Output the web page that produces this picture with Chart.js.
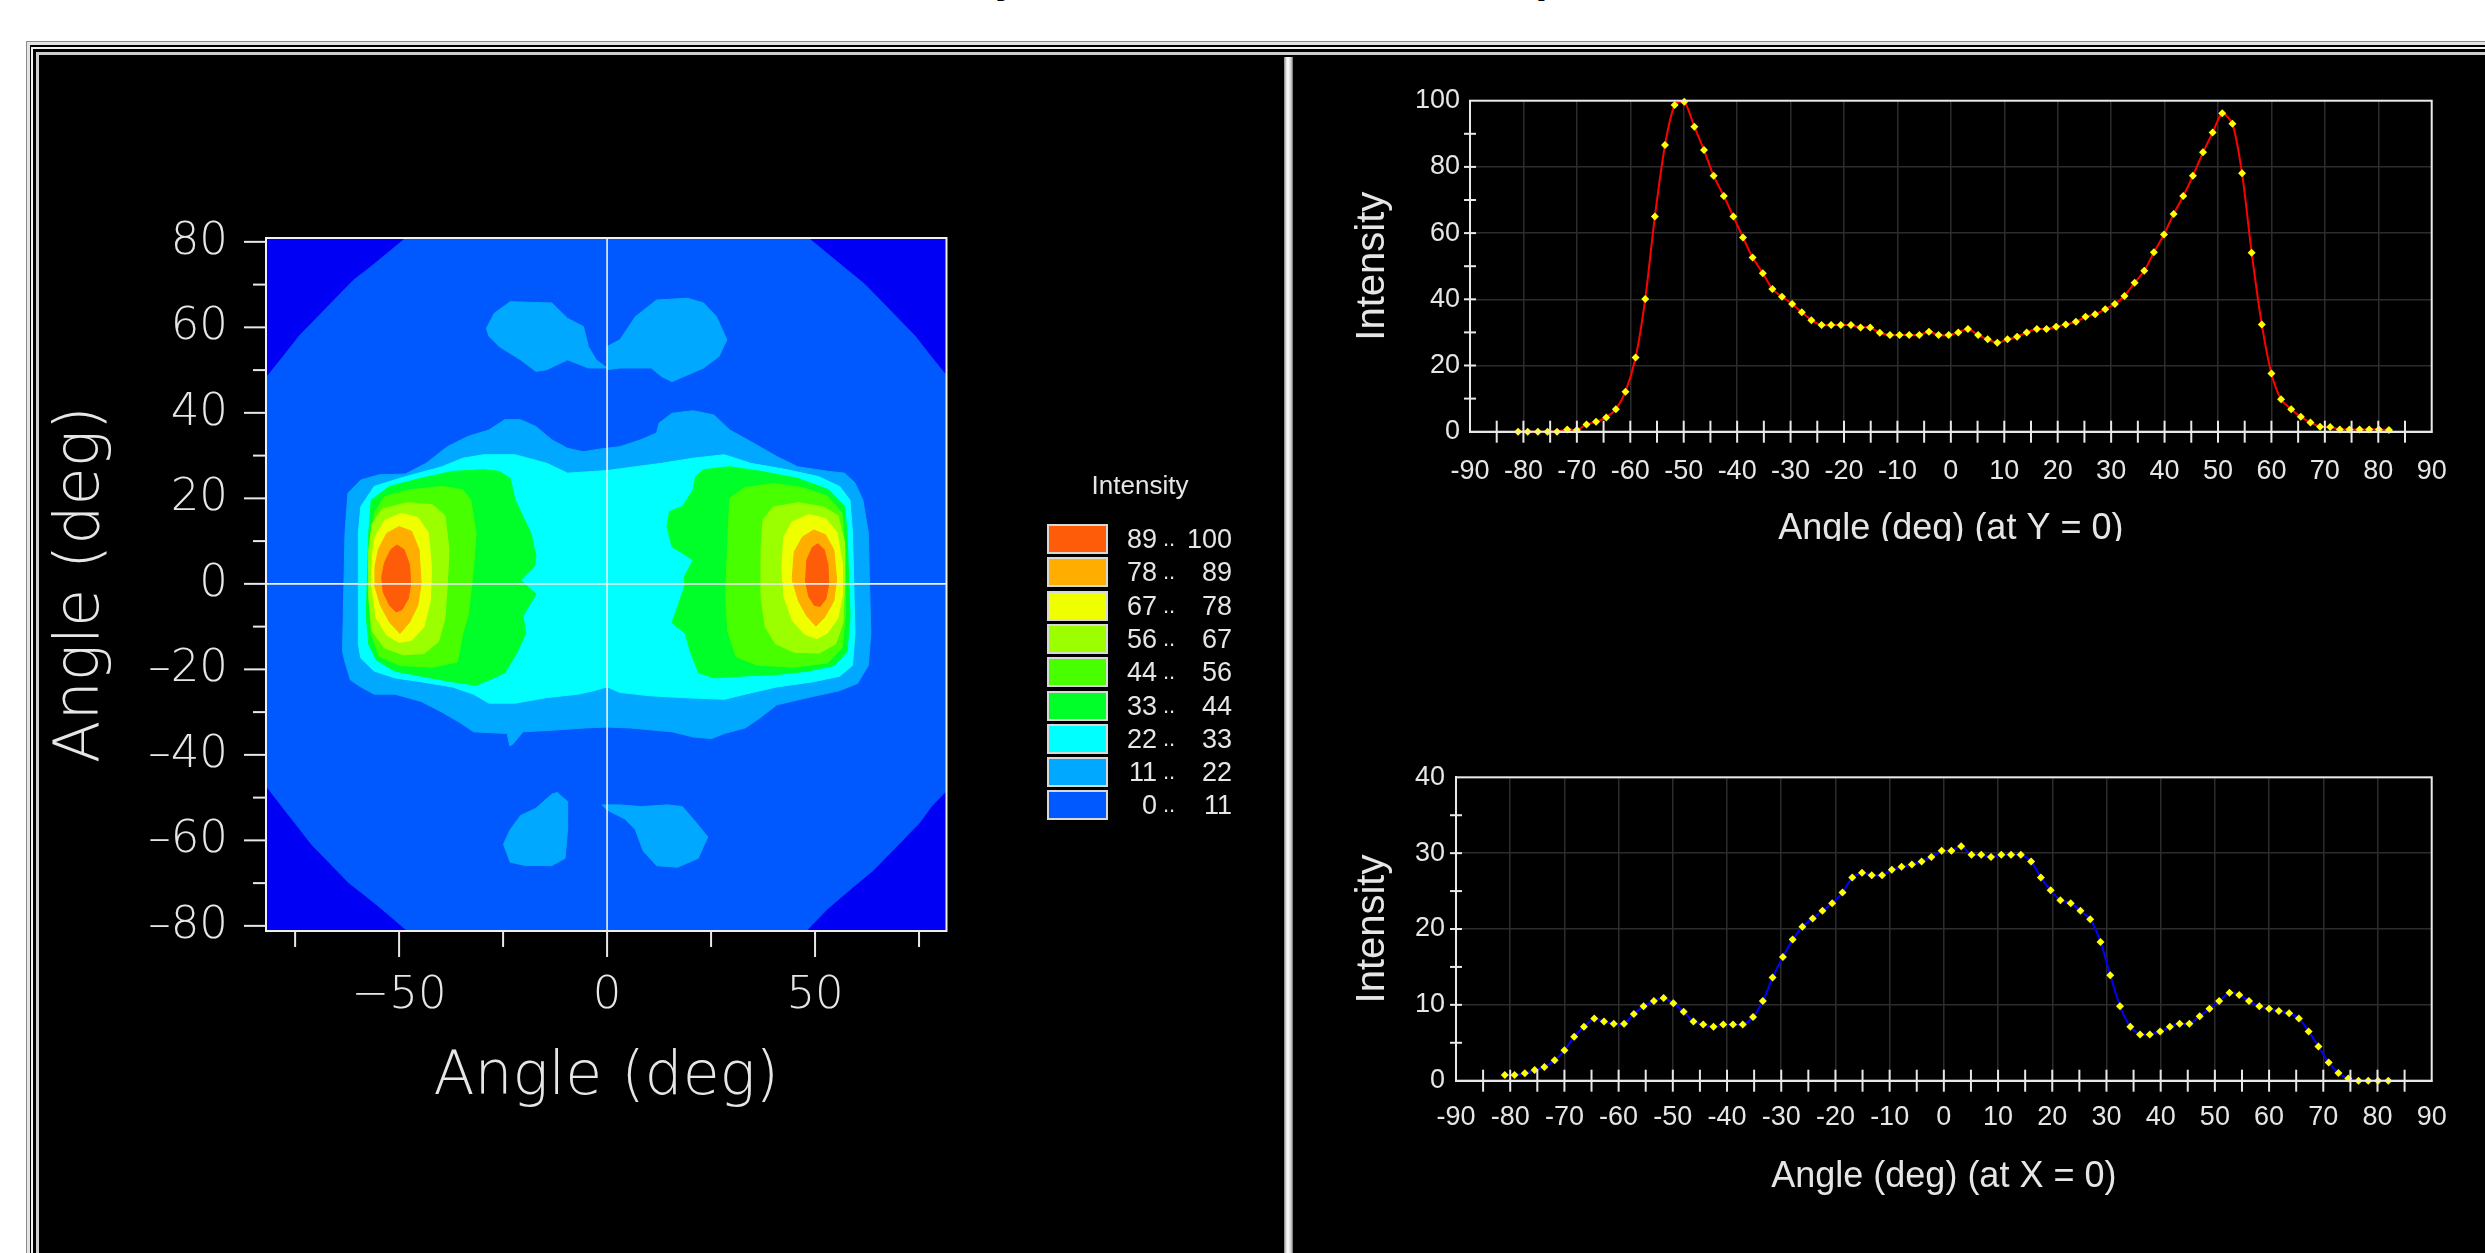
<!DOCTYPE html>
<html>
<head>
<meta charset="utf-8">
<title>Intensity Distribution</title>
<script src="https://cdn.jsdelivr.net/npm/chart.js"></script>
<style>
  html, body { margin: 0; padding: 0; }
  body { width: 2485px; height: 1253px; position: relative; overflow: hidden; background: #fff; }
  .abs { position: absolute; }
  #title { top: -45px; left: 800px; font: bold 44px/44px "Liberation Sans", Arial, sans-serif; color: #000; white-space: nowrap; }
  #f1 { left: 27px; top: 42px; width: 2600px; height: 1300px; background: #000; border-top: 3px solid #e4e4e4; border-left: 3px solid #e4e4e4; box-shadow: -1px -1px 0 #8a8a8a; }
  #f2 { left: 31px; top: 47px; width: 2600px; height: 1300px; border-top: 2px solid #f2f2f2; border-left: 2px solid #f2f2f2; }
  #f3 { left: 36px; top: 52px; width: 2600px; height: 1300px; border-top: 3px solid #cdcdcd; border-left: 3px solid #cdcdcd; }
  #divider { left: 1284px; top: 57px; width: 9px; height: 1200px; background: linear-gradient(90deg, #7a7a7a 0, #dcdcdc 2px, #fff 4px, #cfcfcf 7px, #6a6a6a 9px); }
  #contourBox { left: 0; top: 0; }
  #topWrap { left: 1296px; top: 57px; width: 1189px; height: 484px; overflow: hidden; }
  #bottomBox { left: 1296px; top: 740px; }
  #legend { left: 0; top: 0; font-family: "Liberation Sans", Arial, sans-serif; color: #e6e6e6; }
  .sw { position: absolute; width: 57px; height: 26px; border: 2px solid #d8d8d8; }
  .lt { position: absolute; font-size: 27px; line-height: 30px; white-space: nowrap; }
</style>
</head>
<body>
<div id="title" class="abs">Intensity Distribution Contour Map of Model LED1000_N30_R2</div>
<div id="f1" class="abs"></div>
<div id="f2" class="abs"></div>
<div id="f3" class="abs"></div>
<div id="divider" class="abs"></div>
<div id="contourBox" class="abs"><canvas id="contour" width="1280" height="1253"></canvas></div>
<div id="legend" class="abs"></div>
<div id="topWrap" class="abs"><canvas id="profileY" width="1189" height="560"></canvas></div>
<div id="bottomBox" class="abs"><canvas id="profileX" width="1189" height="513"></canvas></div>

<script>
// ---- contour levels (legend) ----
const levelLow = [0, 11, 22, 33, 44, 56, 67, 78, 89];
const levelHigh = [11, 22, 33, 44, 56, 67, 78, 89, 100];
const levelColors = ['#0058ff', '#00a8ff', '#00ffff', '#00ff28', '#48ff00', '#9cff00', '#f0ff00', '#ffae00', '#ff5c0a'];
const noDataColor = '#0000f5';

// ---- contour outlines, [x deg, y deg] ----
const band0 = [[-47,82],[47,82],[52,78],[57,74],[62,70],[66,66],[70,62],[74,58],[78,53],[83,47],[83,-47],[78,-52],[75,-56],[70,-61],[64,-67],[59,-71],[53,-76],[47,-82],[-47,-82],[-53,-77],[-58,-73],[-62,-70],[-67,-65],[-71,-61],[-75,-56],[-79,-51],[-83,-46],[-83,47],[-78,53],[-74,58],[-70,62],[-66,66],[-61,71],[-57,74],[-52,78]];

const band1Main = [[-63.0,11.9],[-62.3,21.2],[-59.2,24.3],[-54.8,25.5],[-48.5,25.7],[-43.5,28.2],[-38.4,32.1],[-33.4,34.5],[-28.4,36.0],[-24.6,38.4],[-20.8,38.4],[-17.1,36.8],[-13.3,33.7],[-9.5,31.7],[-5.7,30.9],[-2.0,31.5],[3.1,32.1],[8.1,33.7],[11.9,35.3],[12.5,37.6],[15.6,39.9],[20.7,40.5],[25.7,39.5],[29.5,36.0],[34.5,33.3],[40.8,29.8],[45.8,27.4],[53.3,26.3],[57.1,25.9],[59.6,23.6],[61.5,19.6],[62.8,11.9],[63.4,-11.6],[62.8,-19.1],[60.2,-23.3],[55.8,-25.0],[48.3,-26.6],[40.8,-28.3],[36.4,-31.6],[33.2,-33.7],[28.2,-35.0],[25.1,-36.2],[20.7,-35.8],[15.6,-34.6],[5.5,-33.7],[0,-33.5],[-5.2,-33.7],[-12.7,-34.2],[-20.2,-34.6],[-22.7,-37.5],[-23.4,-37.9],[-24.0,-35.0],[-32.1,-34.6],[-35.3,-32.5],[-39.7,-30.0],[-44.7,-27.5],[-51.0,-25.8],[-56.0,-25.8],[-59.2,-24.1],[-61.7,-22.5],[-63.0,-18.3],[-63.6,-15.8]];
const band1TopLeft = [[-29.0,59.8],[-27.1,63.3],[-23.3,66.0],[-13.3,65.7],[-9.5,62.1],[-5.7,60.2],[-4.5,55.5],[-2.6,52.4],[0,50.5],[-4.5,50.5],[-9.5,52.4],[-14.5,50.1],[-17.1,49.7],[-20.8,52.4],[-25.9,55.5],[-28.4,57.9]];
const band1TopRight = [[0,55.5],[3.1,57.1],[6.8,62.5],[11.9,66.4],[19.4,66.8],[23.2,65.7],[26.3,62.5],[28.8,57.1],[26.9,53.2],[23.2,50.5],[15.6,47.3],[13.1,48.5],[10.6,50.5],[3.1,50.5],[0,50.1]];
const band1BottomLeft = [[-12.0,-48.8],[-9.5,-50.9],[-9.5,-57.5],[-10.1,-64.2],[-13.3,-65.9],[-19.6,-65.9],[-23.3,-65.1],[-24.9,-60.9],[-23.3,-57.5],[-20.8,-54.2],[-17.1,-52.5],[-13.3,-49.2]];
const band1BottomRight = [[-1.2,-51.7],[0,-52.9],[4.3,-55.0],[6.8,-57.5],[8.7,-62.5],[11.9,-65.9],[16.9,-66.3],[21.9,-64.2],[24.2,-59.2],[20.7,-55.0],[18.1,-52.1],[14.4,-51.7],[8.1,-52.1],[3.1,-51.7]];

const band2Main = [[-59.8,11.9],[-59.2,18.1],[-56.0,22.8],[-49.8,24.7],[-39.7,27.4],[-34.7,29.4],[-29.6,30.2],[-22.1,30.2],[-14.5,28.2],[-9.5,25.9],[-3.2,26.3],[0,26.5],[6.8,27.4],[13.1,28.2],[20.7,29.4],[28.2,30.2],[34.5,28.2],[43.3,26.7],[50.8,25.1],[55.9,22.8],[58.4,19.6],[59.0,11.9],[59.6,-11.6],[59.0,-19.1],[55.9,-21.6],[49.6,-22.9],[40.8,-24.1],[33.2,-25.8],[28.2,-27.0],[18.1,-26.6],[10.6,-26.2],[3.1,-25.4],[0,-24.1],[-3.2,-25.0],[-7.0,-25.8],[-14.5,-26.6],[-22.1,-27.9],[-28.4,-27.9],[-32.1,-25.8],[-37.2,-24.1],[-44.7,-22.9],[-51.0,-22.0],[-56.0,-20.4],[-59.2,-17.4],[-59.8,-14.1]];

const band3Left = [[-56.7,19.6],[-52.3,22.8],[-44.7,24.7],[-37.2,26.3],[-29.6,26.7],[-25.9,26.3],[-23.3,24.7],[-22.1,19.6],[-20.2,15.7],[-18.3,11.9],[-17.1,6.4],[-17.6,4.0],[-20.8,0.9],[-17.1,-2.4],[-20.2,-7.4],[-19.6,-11.6],[-21.5,-15.8],[-24.6,-20.8],[-28.4,-22.5],[-31.5,-23.7],[-37.2,-22.9],[-44.7,-21.6],[-51.0,-20.4],[-55.4,-17.9],[-57.3,-14.1],[-57.9,-7.4],[-57.3,11.9]];
const band3Right = [[21.3,25.1],[23.2,26.7],[29.5,27.4],[37.0,26.3],[45.8,24.7],[53.3,22.0],[57.1,18.1],[57.7,11.9],[58.4,-7.4],[57.7,-15.8],[54.6,-19.1],[48.3,-20.4],[40.8,-21.2],[32.0,-21.6],[25.7,-22.0],[22.0,-20.8],[20.0,-15.8],[18.8,-11.6],[15.6,-9.1],[16.8,-5.8],[18.6,-0.7],[18.6,1.7],[20.7,5.6],[15.6,8.7],[14.4,13.4],[15.0,16.9],[18.1,18.1],[20.7,22.0]];

const band4Left = [[-56.0,16.5],[-53.5,20.4],[-47.2,22.0],[-39.7,22.8],[-34.7,22.0],[-32.8,19.6],[-31.5,11.9],[-32.1,4.0],[-33.4,-7.4],[-34.7,-11.6],[-36.0,-18.3],[-42.2,-19.5],[-49.8,-19.1],[-54.8,-17.0],[-56.7,-11.6],[-57.3,-3.2]];
const band4Right = [[29.5,20.0],[33.0,22.5],[40.0,23.5],[47.0,22.5],[53.0,20.5],[56.5,16.5],[57.2,8.0],[57.2,-8.0],[56.5,-15.0],[53.0,-18.5],[45.0,-19.5],[36.0,-19.0],[31.0,-17.0],[29.0,-11.0],[28.5,-3.0],[29.0,10.0]];

const band5Left = [[-56.5,14],[-54,17.5],[-48,19],[-42,18.5],[-39,16],[-38,8],[-38.4,0],[-39,-8],[-40.5,-13.5],[-44,-16.3],[-49,-16.6],[-53.5,-15],[-56.5,-11],[-57.3,-3],[-57.3,8]];
const band5Right = [[37.5,15],[40,18],[46,19],[52,18],[55.5,16],[57,10],[57.1,0],[56.7,-9],[55,-14],[51,-16.2],[45,-16],[40.5,-14],[38,-10],[37,-3],[37,8]];

const band6Left = [[-55.8,11],[-53.5,14.8],[-49.5,16.5],[-45.5,15.5],[-43,12],[-42.2,4],[-42.5,-4],[-44,-10],[-47,-13.2],[-50,-13.7],[-53,-12],[-55.5,-8],[-56.7,0],[-56.5,6]];
const band6Right = [[42.5,11],[44.5,14.5],[48.5,16.2],[52.5,15.3],[55.3,12],[56.5,5],[56.5,-3],[55.5,-8],[53,-11.5],[50.5,-12.8],[47.5,-11.8],[44.5,-8.5],[42.5,-3],[42,4]];

const band7Left = [[-55,8],[-53,11.8],[-50,13.4],[-47,12.3],[-45.2,8],[-44.7,0],[-45.5,-5],[-47.5,-9],[-49.8,-11.6],[-52.3,-9],[-54.5,-5],[-56,0],[-55.8,4]];
const band7Right = [[45,7.5],[47,11],[49.7,12.6],[52.5,11.5],[54.5,8],[55.2,1],[54.5,-4],[52.3,-7.8],[50.2,-9.9],[48,-7.5],[46,-4],[44.5,1]];

const band8Left = [[-53.5,5],[-52,8],[-50.5,9.1],[-48.8,8],[-47.5,4.5],[-47.2,0],[-47.8,-3.5],[-49.3,-6],[-50.7,-6.6],[-52.3,-5],[-53.8,-2],[-54.2,1.5]];
const band8Right = [[48,5.5],[49.3,8.5],[50.7,9.4],[52.2,8],[53.1,4.5],[53.3,0],[52.6,-3.5],[51.2,-5.3],[49.8,-5],[48.5,-3],[47.7,0.5]];

const bands = [
  [band0],
  [band1Main, band1TopLeft, band1TopRight, band1BottomLeft, band1BottomRight],
  [band2Main],
  [band3Left, band3Right],
  [band4Left, band4Right],
  [band5Left, band5Right],
  [band6Left, band6Right],
  [band7Left, band7Right],
  [band8Left, band8Right]
];

const mapXLabels = [-50, 0, 50];
const mapXMinor = [-75, -25, 25, 75];
const mapYLabels = [-80, -60, -40, -20, 0, 20, 40, 60, 80];
const mapYMinor = [-70, -50, -30, -10, 10, 30, 50, 70];

// ---- profiles through the centre ----
const profileAngle = [-81.0,-79.2,-77.3,-75.5,-73.7,-71.8,-70.0,-68.2,-66.4,-64.5,-62.7,-60.9,-59.0,-57.2,-55.4,-53.5,-51.7,-49.9,-48.0,-46.2,-44.4,-42.5,-40.7,-38.9,-37.1,-35.2,-33.4,-31.6,-29.7,-27.9,-26.1,-24.2,-22.4,-20.6,-18.7,-16.9,-15.1,-13.3,-11.4,-9.6,-7.8,-5.9,-4.1,-2.3,-0.4,1.4,3.2,5.1,6.9,8.7,10.6,12.4,14.2,16.1,17.9,19.7,21.5,23.4,25.2,27.0,28.9,30.7,32.5,34.4,36.2,38.0,39.9,41.7,43.5,45.3,47.2,49.0,50.8,52.7,54.5,56.3,58.2,60.0,61.8,63.7,65.5,67.3,69.1,71.0,72.8,74.6,76.5,78.3,80.1,82.0];
const intensityAtY0 = [0,0,0,0,0,0.7,0.5,2.2,3.0,4.3,6.8,12.1,22.4,40.1,65.0,86.6,98.7,99.7,92.1,85.1,77.3,71.2,65.0,58.7,52.6,47.9,43.1,40.8,38.6,36.1,33.7,32.2,32.2,32.2,32.2,31.5,31.5,29.9,29.2,29.2,29.2,29.2,30.2,29.2,29.2,30.0,31.0,29.2,27.9,26.9,27.9,28.7,30.0,31.0,31.0,31.7,32.4,33.2,34.7,35.5,37.0,38.6,41.0,45.0,48.6,54.2,59.6,65.8,71.2,77.3,84.4,90.4,96.2,93.0,78.1,54.1,32.4,17.6,9.8,6.8,4.5,2.8,1.5,1.4,0.7,0.7,0.7,0.7,0.7,0.5];
const intensityAtX0 = [0.75,0.75,0.97,1.4,1.8,2.7,4.0,5.8,7.1,8.2,7.8,7.5,7.5,8.8,9.8,10.5,10.9,10.2,9.1,7.8,7.4,7.1,7.4,7.4,7.4,8.4,10.5,13.6,16.3,18.6,20.3,21.4,22.4,23.4,24.8,26.8,27.4,27.1,27.1,27.8,28.2,28.5,28.9,29.5,30.3,30.3,30.9,29.8,29.8,29.5,29.8,29.8,29.8,28.9,26.8,25.1,23.8,23.4,22.4,21.3,18.3,13.9,9.8,7.1,6.1,6.1,6.5,7.1,7.5,7.5,8.5,9.5,10.5,11.6,11.3,10.5,9.8,9.5,9.2,8.9,8.2,6.5,4.5,2.4,1.0,0.3,0,0,0,0];
const profileXLabels = [-90,-80,-70,-60,-50,-40,-30,-20,-10,0,10,20,30,40,50,60,70,80,90];
const profileXMarks = [-85,-80,-75,-70,-65,-60,-55,-50,-45,-40,-35,-30,-25,-20,-15,-10,-5,0,5,10,15,20,25,30,35,40,45,50,55,60,65,70,75,80,85];
const topYLabels = [0, 20, 40, 60, 80, 100];
const topYMarks = [10, 20, 30, 40, 50, 60, 70, 80, 90];
const bottomYLabels = [0, 10, 20, 30, 40];
const bottomYMarks = [5, 10, 15, 20, 25, 30, 35];

const lightText = '#e6e6e6';
const axisColor = '#e8e8e8';
const gridColor = '#2c2c2c';
const thinFont = size => ({ family: '"DejaVu Sans", sans-serif', size: size, weight: '200' });
const plainFont = size => ({ family: '"Liberation Sans", Arial, sans-serif', size: size });

// title: only the descenders show above the frame
(function placeTitle() {
  const t = document.getElementById('title');
  const c = document.createElement('canvas').getContext('2d');
  c.font = 'bold 44px "Liberation Sans", Arial, sans-serif';
  t.style.left = (995 - c.measureText('Intensit').width) + 'px';
})();

// frame / background / crosshair around a plot area
const plotFrame = {
  id: 'plotFrame',
  beforeDatasetsDraw(chart, args, opts) {
    if (!opts.bg) return;
    const a = chart.chartArea;
    chart.ctx.save();
    chart.ctx.fillStyle = opts.bg;
    chart.ctx.fillRect(a.left, a.top, a.width, a.height);
    chart.ctx.restore();
  },
  afterDatasetsDraw(chart, args, opts) {
    const {ctx, chartArea: a, scales} = chart;
    ctx.save();
    ctx.strokeStyle = opts.border || axisColor;
    if (opts.cross) {
      ctx.lineWidth = 1.6;
      const x0 = scales.x.getPixelForValue(0), y0 = scales.y.getPixelForValue(0);
      ctx.beginPath();
      ctx.moveTo(x0, a.top); ctx.lineTo(x0, a.bottom);
      ctx.moveTo(a.left, y0); ctx.lineTo(a.right, y0);
      ctx.stroke();
    }
    ctx.lineWidth = 2;
    ctx.strokeRect(a.left, a.top, a.width, a.height);
    ctx.restore();
  }
};

// tick marks drawn through the scales (outward or crossing the axis line)
function tickMarks(specs) {
  return {
    id: 'tickMarks',
    afterDraw(chart) {
      const {ctx, chartArea: a} = chart;
      ctx.save();
      ctx.strokeStyle = axisColor;
      ctx.lineWidth = 2;
      specs.forEach(s => {
        const scale = chart.scales[s.axis];
        const inner = s.cross ? s.len / 2 : 0;
        const outer = s.cross ? s.len / 2 : s.len;
        s.values.forEach(v => {
          const p = scale.getPixelForValue(v);
          ctx.beginPath();
          if (s.axis === 'x') {
            ctx.moveTo(p, a.bottom - inner); ctx.lineTo(p, a.bottom + outer);
          } else {
            ctx.moveTo(a.left + inner, p); ctx.lineTo(a.left - outer, p);
          }
          ctx.stroke();
        });
      });
      ctx.restore();
    }
  };
}

// ---- contour map ----
const mapXLabel = v => (v < 0 ? '\u2212' + Math.abs(v) : String(v));
const mapYLabel = v => (v < 0 ? '\u2013' + Math.abs(v) : String(v));
const contourDatasets = [];
bands.forEach((polys, lvl) => {
  polys.forEach(poly => {
    const pts = poly.map(p => ({ x: p[0], y: p[1] }));
    pts.push(pts[0]);
    contourDatasets.push({
      data: pts,
      fill: 'shape',
      backgroundColor: levelColors[lvl],
      borderColor: levelColors[lvl],
      borderWidth: 1,
      borderJoinStyle: 'round',
      pointRadius: 0,
      tension: 0,
      order: -lvl
    });
  });
});

new Chart(document.getElementById('contour'), {
  type: 'line',
  data: { datasets: contourDatasets },
  options: {
    responsive: false,
    animation: false,
    events: [],
    layout: { padding: { left: 0, top: 238, right: 333.5, bottom: 122 } },
    plugins: {
      legend: { display: false },
      tooltip: { enabled: false },
      plotFrame: { bg: noDataColor, cross: true, border: '#f0f0f0' }
    },
    scales: {
      x: {
        type: 'linear', min: -82, max: 81.6,
        afterBuildTicks: ax => { ax.ticks = mapXLabels.map(v => ({ value: v })); },
        afterFit: ax => { ax.height = 200; },
        grid: { display: false, drawTicks: false },
        border: { display: false },
        ticks: { color: lightText, font: thinFont(45), padding: 38, maxRotation: 0, autoSkip: false, callback: v => mapXLabel(v) },
        title: { display: true, text: 'Angle (deg)', color: lightText, font: thinFont(60), padding: { top: 0, bottom: 17 } }
      },
      y: {
        type: 'linear', min: -81.2, max: 80.9,
        afterBuildTicks: ax => { ax.ticks = mapYLabels.map(v => ({ value: v })); },
        afterFit: ax => { ax.width = 266; },
        grid: { display: false, drawTicks: false },
        border: { display: false },
        ticks: { color: lightText, font: thinFont(45), padding: 38, autoSkip: false, callback: v => mapYLabel(v) },
        title: { display: true, text: 'Angle (deg)', color: lightText, font: thinFont(62), padding: { top: 45, bottom: 0 } }
      }
    }
  },
  plugins: [plotFrame, tickMarks([
    { axis: 'x', values: mapXLabels, len: 26 },
    { axis: 'x', values: mapXMinor, len: 16 },
    { axis: 'y', values: mapYLabels, len: 22 },
    { axis: 'y', values: mapYMinor, len: 13 }
  ])]
});

// ---- legend ----
(function buildLegend() {
  const box = document.getElementById('legend');
  const head = document.createElement('div');
  head.className = 'lt';
  head.style.cssText = 'left:1040px;width:200px;text-align:center;top:470px;font-size:26px;';
  head.textContent = 'Intensity';
  box.appendChild(head);
  for (let r = 0; r < levelColors.length; r++) {
    const lvl = levelColors.length - 1 - r;
    const top = 524 + r * 33.3;
    const sw = document.createElement('div');
    sw.className = 'sw';
    sw.style.left = '1047px';
    sw.style.top = top + 'px';
    sw.style.background = levelColors[lvl];
    box.appendChild(sw);
    const lo = document.createElement('div');
    lo.className = 'lt';
    lo.style.cssText = 'left:1097px;width:60px;text-align:right;top:' + top + 'px;';
    lo.textContent = levelLow[lvl];
    box.appendChild(lo);
    const dots = document.createElement('div');
    dots.className = 'lt';
    dots.style.cssText = 'left:1163px;top:' + top + 'px;font-size:22px;';
    dots.textContent = '..';
    box.appendChild(dots);
    const hi = document.createElement('div');
    hi.className = 'lt';
    hi.style.cssText = 'left:1172px;width:60px;text-align:right;top:' + top + 'px;';
    hi.textContent = levelHigh[lvl];
    box.appendChild(hi);
  }
})();

// ---- profile charts ----
function profileChart(id, values, lineColor, yMax, yLabels, yMarks, box) {
  return new Chart(document.getElementById(id), {
    type: 'line',
    data: {
      datasets: [{
        data: profileAngle.map((a, i) => ({ x: a, y: values[i] })),
        borderColor: lineColor,
        borderWidth: 2,
        tension: 0.25,
        pointStyle: 'rectRot',
        pointRadius: 4,
        pointBackgroundColor: '#ffff00',
        pointBorderColor: '#ffff00',
        pointBorderWidth: 0,
        clip: 6
      }]
    },
    options: {
      responsive: false,
      animation: false,
      events: [],
      layout: { padding: { left: 0, top: box.top, right: 53.3, bottom: 0 } },
      plugins: { legend: { display: false }, tooltip: { enabled: false }, plotFrame: { border: axisColor } },
      scales: {
        x: {
          type: 'linear', min: -90, max: 90,
          afterBuildTicks: ax => { ax.ticks = profileXLabels.map(v => ({ value: v })); },
          afterFit: ax => { ax.height = box.xh; },
          grid: { color: gridColor, lineWidth: 1.5, drawTicks: false },
          border: { display: true, color: axisColor, width: 2 },
          ticks: { color: lightText, font: plainFont(27), padding: box.xpad, maxRotation: 0, autoSkip: false },
          title: { display: true, text: box.title, color: lightText, font: plainFont(36), padding: { top: 0, bottom: box.tpad } }
        },
        y: {
          type: 'linear', min: 0, max: yMax,
          afterBuildTicks: ax => { ax.ticks = yLabels.map(v => ({ value: v })); },
          afterFit: ax => { ax.width = box.yw; },
          grid: { color: gridColor, lineWidth: 1.5, drawTicks: false },
          border: { display: true, color: axisColor, width: 2 },
          ticks: { color: lightText, font: plainFont(27), padding: box.ypad, autoSkip: false },
          title: { display: true, text: 'Intensity', color: lightText, font: plainFont(40), padding: { top: 52.7, bottom: 0 } }
        }
      }
    },
    plugins: [plotFrame, tickMarks([
      { axis: 'x', values: profileXMarks, len: 22, cross: true },
      { axis: 'y', values: yMarks, len: 12, cross: true }
    ])]
  });
}

profileChart('profileY', intensityAtY0, '#ff0000', 100, topYLabels, topYMarks,
  { top: 43.7, xh: 185.3, yw: 174, xpad: 24, ypad: 10, tpad: 66.2, title: 'Angle (deg) (at Y = 0)' });
profileChart('profileX', intensityAtX0, '#0000ff', 40, bottomYLabels, bottomYMarks,
  { top: 37.3, xh: 172.3, yw: 160, xpad: 21, ypad: 11, tpad: 53.9, title: 'Angle (deg) (at X = 0)' });
</script>
</body>
</html>
